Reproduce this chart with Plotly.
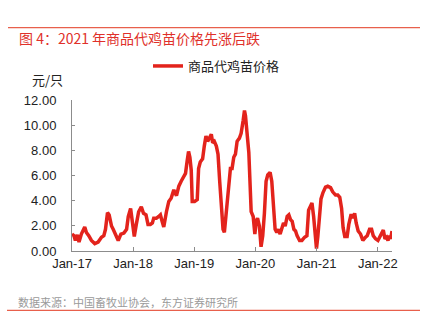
import plotly.graph_objects as go

# ---- data ----
dates = [
    "2017-01-01", "2017-01-13", "2017-01-21", "2017-02-02", "2017-02-12", "2017-02-26",
    "2017-03-18", "2017-03-28", "2017-04-11", "2017-04-27", "2017-05-17", "2017-06-06",
    "2017-06-26", "2017-07-10", "2017-07-20", "2017-08-01", "2017-08-11", "2017-08-25",
    "2017-09-04", "2017-09-20", "2017-10-04", "2017-10-20", "2017-11-07", "2017-11-23",
    "2017-12-03", "2017-12-17", "2017-12-25", "2018-01-08", "2018-01-20", "2018-02-03",
    "2018-02-19", "2018-03-04", "2018-03-19", "2018-03-31", "2018-04-14", "2018-04-26",
    "2018-05-04", "2018-05-20", "2018-06-03", "2018-06-13", "2018-06-23", "2018-07-03",
    "2018-07-19", "2018-08-02", "2018-08-16", "2018-09-01", "2018-09-17", "2018-10-01",
    "2018-10-15", "2018-10-31", "2018-11-10", "2018-11-20", "2018-11-28", "2018-12-06",
    "2018-12-14", "2018-12-20", "2019-01-03", "2019-01-19", "2019-01-27", "2019-02-06",
    "2019-02-20", "2019-03-02", "2019-03-12", "2019-03-22", "2019-04-01", "2019-04-13",
    "2019-04-21", "2019-05-01", "2019-05-13", "2019-05-23", "2019-06-02", "2019-06-12",
    "2019-06-22", "2019-06-30", "2019-07-08", "2019-07-16", "2019-07-26", "2019-08-05",
    "2019-08-15", "2019-08-25", "2019-09-04", "2019-09-14", "2019-09-28", "2019-10-08",
    "2019-10-20", "2019-10-28", "2019-11-03", "2019-11-13", "2019-11-23", "2019-12-07",
    "2019-12-19", "2019-12-29", "2020-01-06", "2020-01-14", "2020-01-25", "2020-02-04",
    "2020-02-14", "2020-02-24", "2020-03-05", "2020-03-15", "2020-03-29", "2020-04-08",
    "2020-04-18", "2020-04-28", "2020-05-08", "2020-05-18", "2020-05-28", "2020-06-07",
    "2020-06-17", "2020-06-27", "2020-07-09", "2020-07-19", "2020-07-29", "2020-08-08",
    "2020-08-18", "2020-08-28", "2020-09-06", "2020-09-21", "2020-10-05", "2020-10-21",
    "2020-11-04", "2020-11-14", "2020-11-24", "2020-12-04", "2020-12-14", "2020-12-23",
    "2020-12-31", "2021-01-08", "2021-01-18", "2021-01-27", "2021-02-08", "2021-02-23",
    "2021-03-08", "2021-03-25", "2021-04-07", "2021-04-24", "2021-05-07", "2021-05-19",
    "2021-05-30", "2021-06-08", "2021-06-18", "2021-07-02", "2021-07-12", "2021-07-26",
    "2021-08-05", "2021-08-16", "2021-08-25", "2021-09-06", "2021-09-20", "2021-10-04",
    "2021-10-20", "2021-10-30", "2021-11-13", "2021-11-25", "2021-12-05", "2021-12-19",
    "2022-01-02", "2022-01-14", "2022-01-24", "2022-02-03", "2022-02-13", "2022-02-23",
    "2022-03-03", "2022-03-11", "2022-03-19", "2022-03-27",
]
prices = [
    1.35, 1.22, 0.84, 1.28, 0.71, 1.35,
    1.91, 1.48, 1.22, 0.84, 0.59, 0.71,
    1.10, 1.22, 1.73, 3.06, 2.88, 1.99,
    1.73, 1.22, 0.84, 1.35, 1.43, 1.73,
    2.75, 3.39, 2.37, 1.15, 2.12, 3.13,
    3.52, 3.00, 2.88, 2.12, 2.12, 2.24,
    2.62, 2.62, 2.75, 2.88, 2.37, 1.91,
    3.13, 3.95, 4.20, 4.87, 4.41, 5.17,
    5.56, 5.94, 6.19, 7.21, 7.93, 7.47,
    6.44, 3.95, 3.95, 4.10, 6.57, 7.09,
    7.34, 8.36, 9.17, 8.74, 9.00, 9.30,
    8.62, 8.74, 8.36, 7.72, 5.56, 3.52,
    1.73, 1.48, 2.75, 3.64, 4.79, 6.57,
    6.57, 7.47, 7.72, 8.74, 9.00, 9.38,
    10.40, 11.20, 10.78, 9.38, 7.85, 3.13,
    2.75, 1.35, 2.37, 2.62, 2.00, 0.33,
    1.22, 3.00, 5.56, 6.06, 6.27, 5.56,
    3.26, 1.73, 1.48, 1.73, 1.35, 1.86,
    2.24, 1.99, 2.75, 2.88, 2.50, 2.37,
    1.73, 1.60, 1.22, 0.84, 0.84, 1.10,
    1.22, 3.26, 3.52, 3.82, 2.75, 0.97,
    0.20, 1.15, 3.13, 4.15, 4.66, 5.10,
    5.17, 5.05, 4.72, 4.46, 4.46, 4.28,
    3.39, 1.86, 1.15, 1.15, 2.12, 2.93,
    2.62, 3.00, 2.24, 1.60, 1.35, 0.84,
    1.10, 1.22, 1.73, 1.73, 1.22, 0.97,
    0.84, 1.10, 1.35, 1.66, 0.97, 1.10,
    0.84, 1.22, 0.97, 1.60,
]
series_name = "商品代鸡苗价格"
y_ticks = [0, 2, 4, 6, 8, 10, 12]
title_text = "图 4：2021 年商品代鸡苗价格先涨后跌"
unit_text = "元/只"
source_text = "数据来源：中国畜牧业协会，东方证券研究所"

# ---- layout geometry (pixels) ----
W, H = 422, 336
L, R, T, B = 72, 30, 94, 85
PW, PH = W - L - R, H - T - B


def px(xp):
    return (xp - L) / PW


def py(yp):
    return (H - B - yp) / PH


RED = "#E3231C"
CJK = "Noto Sans CJK SC"
LAT = "Liberation Sans, Arial, sans-serif"

fig = go.Figure()
fig.add_trace(go.Scatter(
    x=dates, y=prices, mode="lines", name=series_name,
    line=dict(color=RED, width=3.5),
))

fig.update_layout(
    width=W, height=H,
    margin=dict(l=L, r=R, t=T, b=B, pad=0),
    paper_bgcolor="white", plot_bgcolor="white",
    showlegend=True,
    legend=dict(
        xref="container", yref="container",
        x=148 / W, y=1 - 66 / H, xanchor="left", yanchor="middle",
        orientation="h", bgcolor="rgba(0,0,0,0)", borderwidth=0,
        font=dict(family=CJK, size=13, color="#222"),
        itemwidth=30,
    ),
    xaxis=dict(
        type="date", range=["2017-01-01", "2022-03-27"],
        tick0="2017-01-01", dtick="M12", tickformat="%b-%y",
        showgrid=False, zeroline=False,
        showline=True, linecolor="#8c8c8c", linewidth=1,
        ticks="inside", ticklen=4, tickcolor="#8c8c8c",
        tickfont=dict(family=LAT, size=13, color="#222"),
    ),
    yaxis=dict(
        range=[0, 12], tickvals=y_ticks, tickformat=".2f",
        showgrid=False, zeroline=False,
        showline=True, linecolor="#8c8c8c", linewidth=1,
        ticks="inside", ticklen=3, tickcolor="#8c8c8c",
        ticklabelstandoff=12,
        tickfont=dict(family=LAT, size=13, color="#222"),
    ),
    shapes=[
        dict(type="line", xref="paper", yref="paper",
             x0=px(8), x1=px(420), y0=py(18), y1=py(18),
             line=dict(color="#E8604C", width=1.2)),
        dict(type="line", xref="paper", yref="paper",
             x0=px(7), x1=px(420), y0=py(313), y1=py(313),
             line=dict(color="#E8604C", width=1.2)),
    ],
    annotations=[
        dict(text=title_text, xref="paper", yref="paper",
             x=px(17), y=py(29), xanchor="left", yanchor="middle",
             showarrow=False, font=dict(family=CJK, size=14, color="#E0302A")),
        dict(text=unit_text, xref="paper", yref="paper",
             x=px(30), y=py(72), xanchor="left", yanchor="middle",
             showarrow=False, font=dict(family=CJK, size=13, color="#222")),
        dict(text=source_text, xref="paper", yref="paper",
             x=px(16), y=py(304), xanchor="left", yanchor="middle",
             showarrow=False, font=dict(family=CJK, size=11, color="#9a9a9a")),
    ],
)

fig.write_html("out.html")
